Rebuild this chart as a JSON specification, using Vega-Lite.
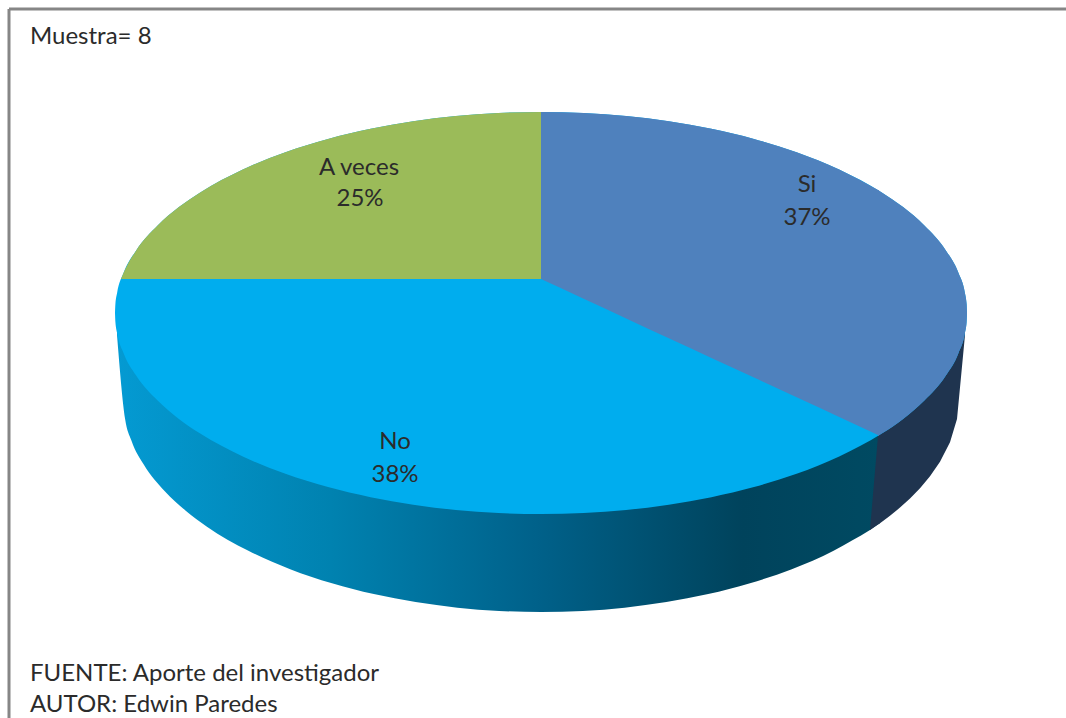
{"$schema":"https://vega.github.io/schema/vega-lite/v6.json","width":1066,"height":718,"autosize":"none","padding":0,"background":"white","config":{"view":{"stroke":null}},"datasets":{"top":[{"x":115,"y":313,"y2":313},{"x":115.4,"y":304,"y2":322},{"x":117.1,"y":293,"y2":333},{"x":123.5,"y":273,"y2":353},{"x":136.3,"y":250.2,"y2":375.8},{"x":157.6,"y":225.4,"y2":400.6},{"x":178.9,"y":207.1,"y2":418.9},{"x":200.2,"y":192.4,"y2":433.6},{"x":242.8,"y":169.5,"y2":456.5},{"x":285.4,"y":152.2,"y2":473.8},{"x":328,"y":138.9,"y2":487.1},{"x":370.6,"y":128.8,"y2":497.2},{"x":413.2,"y":121.3,"y2":504.7},{"x":455.8,"y":116.1,"y2":509.9},{"x":498.4,"y":113,"y2":513},{"x":541,"y":112,"y2":514},{"x":583.6,"y":113,"y2":513},{"x":626.2,"y":116.1,"y2":509.9},{"x":668.8,"y":121.3,"y2":504.7},{"x":711.4,"y":128.8,"y2":497.2},{"x":754,"y":138.9,"y2":487.1},{"x":796.6,"y":152.2,"y2":473.8},{"x":839.2,"y":169.5,"y2":456.5},{"x":881.8,"y":192.4,"y2":433.6},{"x":903.1,"y":207.1,"y2":418.9},{"x":924.4,"y":225.4,"y2":400.6},{"x":945.7,"y":250.2,"y2":375.8},{"x":958.5,"y":273,"y2":353},{"x":964.9,"y":293,"y2":333},{"x":966.6,"y":304,"y2":322},{"x":967,"y":313,"y2":313}],"green":[{"x":121,"y":279,"y2":279},{"x":123.5,"y":273,"y2":279},{"x":136.3,"y":250.2,"y2":279},{"x":157.6,"y":225.4,"y2":279},{"x":178.9,"y":207.1,"y2":279},{"x":200.2,"y":192.4,"y2":279},{"x":242.8,"y":169.5,"y2":279},{"x":285.4,"y":152.2,"y2":279},{"x":328,"y":138.9,"y2":279},{"x":370.6,"y":128.8,"y2":279},{"x":413.2,"y":121.3,"y2":279},{"x":455.8,"y":116.1,"y2":279},{"x":498.4,"y":113,"y2":279},{"x":541,"y":112,"y2":279}],"blue":[{"part":"a","x":541,"y":112,"y2":279},{"part":"a","x":583.6,"y":113,"y2":298.7},{"part":"a","x":626.2,"y":116.1,"y2":318.4},{"part":"a","x":668.8,"y":121.3,"y2":338.2},{"part":"a","x":711.4,"y":128.8,"y2":357.9},{"part":"a","x":754,"y":138.9,"y2":377.6},{"part":"a","x":796.6,"y":152.2,"y2":397.3},{"part":"a","x":839.2,"y":169.5,"y2":417},{"part":"a","x":879,"y":190.6,"y2":435.5},{"part":"b","x":878,"y":190,"y2":436},{"part":"b","x":881.8,"y":192.4,"y2":433.6},{"part":"b","x":903.1,"y":207.1,"y2":418.9},{"part":"b","x":924.4,"y":225.4,"y2":400.6},{"part":"b","x":945.7,"y":250.2,"y2":375.8},{"part":"b","x":958.5,"y":273,"y2":353},{"part":"b","x":964.9,"y":293,"y2":333},{"part":"b","x":966.6,"y":304,"y2":322},{"part":"b","x":967,"y":313,"y2":313}],"side":[{"x":117,"y":335,"y2":313},{"x":125.1,"y":419,"y2":313},{"x":131.4,"y":440.6,"y2":313},{"x":143.9,"y":464.8,"y2":313},{"x":164.8,"y":491.3,"y2":313},{"x":185.7,"y":510.7,"y2":313},{"x":206.6,"y":526.4,"y2":313},{"x":248.4,"y":550.8,"y2":313},{"x":290.2,"y":569.2,"y2":313},{"x":332,"y":583.3,"y2":313},{"x":373.8,"y":594.1,"y2":313},{"x":415.6,"y":602.1,"y2":313},{"x":457.4,"y":607.7,"y2":313},{"x":499.2,"y":610.9,"y2":313},{"x":541,"y":612,"y2":313},{"x":582.8,"y":610.9,"y2":313},{"x":624.6,"y":607.7,"y2":313},{"x":666.4,"y":602.1,"y2":313},{"x":708.2,"y":594.1,"y2":313},{"x":750,"y":583.3,"y2":313},{"x":791.8,"y":569.2,"y2":313},{"x":833.6,"y":550.8,"y2":313},{"x":852,"y":540.5,"y2":313},{"x":870,"y":530,"y2":313},{"x":880,"y":523,"y2":313}],"dark":[{"x":870,"y":530,"y2":530},{"x":878,"y":524.6,"y2":436},{"x":879,"y":524,"y2":313},{"x":890,"y":515.8,"y2":313},{"x":900,"y":507.6,"y2":313},{"x":910,"y":498.5,"y2":313},{"x":920,"y":488.3,"y2":313},{"x":930,"y":476.3,"y2":313},{"x":940,"y":461.8,"y2":313},{"x":950,"y":442.2,"y2":313},{"x":957,"y":419,"y2":313},{"x":961,"y":377,"y2":313},{"x":965,"y":335,"y2":313}],"frameH":[{"x":9,"x2":1066,"y":9}],"frameV":[{"x":9,"y":9,"y2":718}],"labelsCenter":[{"label":"A veces","x":359,"y":175},{"label":"25%","x":360,"y":206},{"label":"Si","x":807,"y":192},{"label":"37%","x":807,"y":225},{"label":"No","x":395,"y":449},{"label":"38%","x":395,"y":482}],"labelsLeft":[{"label":"Muestra= 8","x":30,"y":44},{"label":"FUENTE: Aporte del investigador","x":30,"y":681},{"label":"AUTOR: Edwin Paredes","x":30,"y":712}]},"encoding":{"x":{"field":"x","type":"quantitative","scale":{"domain":[0,1066],"nice":false,"zero":false},"axis":null},"y":{"field":"y","type":"quantitative","scale":{"domain":[718,0],"nice":false,"zero":false},"axis":null}},"layer":[{"data":{"name":"side"},"mark":{"type":"area","interpolate":"monotone","color":{"gradient":"linear","x1":0,"y1":0,"x2":1,"y2":0,"stops":[{"offset":0,"color":"#049AD2"},{"offset":0.28,"color":"#0082B0"},{"offset":0.55,"color":"#00618A"},{"offset":0.82,"color":"#00435C"},{"offset":1,"color":"#004A62"}]}},"encoding":{"y2":{"field":"y2"}}},{"data":{"name":"dark"},"mark":{"type":"area","interpolate":"linear","color":"#1F344F"},"encoding":{"y2":{"field":"y2"}}},{"data":{"name":"top"},"mark":{"type":"area","interpolate":"monotone","color":"#00ADEE"},"encoding":{"y2":{"field":"y2"}}},{"data":{"name":"green"},"mark":{"type":"area","interpolate":"monotone","color":"#9BBB59"},"encoding":{"y2":{"field":"y2"}}},{"data":{"name":"blue"},"mark":{"type":"area","interpolate":"monotone","color":"#4F81BD"},"encoding":{"y2":{"field":"y2"},"detail":{"field":"part"}}},{"data":{"name":"labelsCenter"},"mark":{"type":"text","align":"center","baseline":"alphabetic","font":"Lato","fontSize":24,"color":"#2B2B2B"},"encoding":{"text":{"field":"label"}}},{"data":{"name":"labelsLeft"},"mark":{"type":"text","align":"left","baseline":"alphabetic","font":"Lato","fontSize":24,"color":"#2B2B2B"},"encoding":{"text":{"field":"label"}}},{"data":{"name":"frameH"},"mark":{"type":"rule","color":"#868686","strokeWidth":3},"encoding":{"x2":{"field":"x2"}}},{"data":{"name":"frameV"},"mark":{"type":"rule","color":"#868686","strokeWidth":3},"encoding":{"y2":{"field":"y2"}}}]}
